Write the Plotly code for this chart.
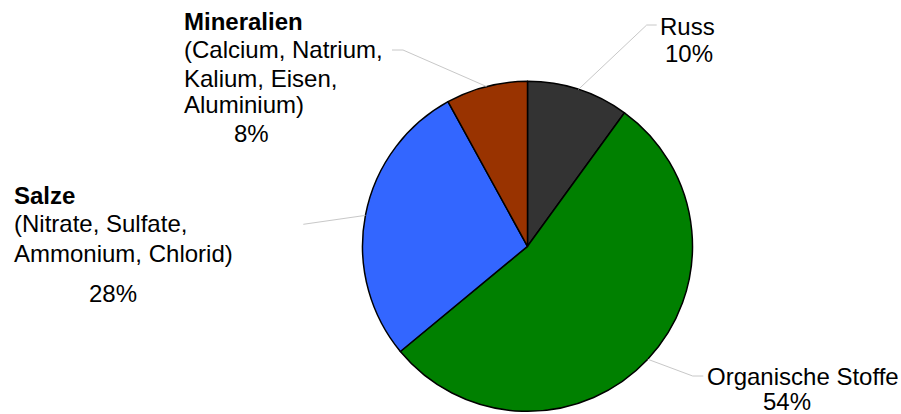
import math
import plotly.graph_objects as go

# ---- data ----
categories = ["Russ", "Organische Stoffe", "Salze", "Mineralien"]
values = [10, 54, 28, 8]
subtitles = ["", "", "(Nitrate, Sulfate,<br>Ammonium, Chlorid)", "(Calcium, Natrium,<br>Kalium, Eisen,<br>Aluminium)"]
colors = ["#333333", "#008000", "#3366FF", "#993300"]

W, H = 901, 414
CX, CY, R = 527.5, 246.3, 165.0
FONT = "Liberation Sans, Arial, sans-serif"
FS = 24

fig = go.Figure(go.Pie(
    labels=categories, values=values, sort=False, direction="clockwise", rotation=0,
    marker=dict(colors=colors, line=dict(color="#000000", width=1.5)),
    textinfo="none", hoverinfo="label+percent", showlegend=False,
    domain=dict(x=[(CX - R) / W, (CX + R) / W], y=[(H - CY - R) / H, (H - CY + R) / H]),
))

def px(x):
    return x / W

def py(y):
    return 1 - y / H

total = sum(values)
pct = [round(100 * v / total) for v in values]

# label layout (pixel positions of label blocks and leader elbows)
layout_spec = {
    "Russ": dict(lines=[(687, 26.7, "center", False)], pct=(689, 53.3), elbow=[(646.7, 25), (656.7, 25)]),
    "Organische Stoffe": dict(lines=[(706, 376, "left", False)], pct=(787, 401), elbow=[(692.7, 376), (703.3, 376)]),
    "Salze": dict(lines=[(13, 195.8, "left", True), (13, 224, "left", False), (13, 254, "left", False)],
                  pct=(113.3, 293), elbow=[(303.3, 224.3)]),
    "Mineralien": dict(lines=[(182.7, 21.3, "left", True), (182.7, 49.7, "left", False),
                              (182.7, 78.3, "left", False), (182.7, 104, "left", False)],
                       pct=(251.7, 133), elbow=[(403, 50), (392, 50)]),
}

annotations = []
shapes = []
cum = 0.0
for cat, val, sub, p in zip(categories, values, subtitles, pct):
    spec = layout_spec[cat]
    texts = [cat] + (sub.split("<br>") if sub else [])
    for (x, y, anchor, bold), t in zip(spec["lines"], texts):
        annotations.append(dict(x=px(x), y=py(y), xref="paper", yref="paper", text=f"<b>{t}</b>" if bold else t,
                                showarrow=False, xanchor=anchor, yanchor="middle", borderpad=0,
                                font=dict(family=FONT, size=FS, color="#000000")))
    annotations.append(dict(x=px(spec["pct"][0]), y=py(spec["pct"][1]), xref="paper", yref="paper",
                            text=f"{p}%", showarrow=False, xanchor="center", yanchor="middle", borderpad=0,
                            font=dict(family=FONT, size=FS, color="#000000")))
    # leader line from slice mid-angle
    mid = (cum + val / 2) / total * 2 * math.pi
    cum += val
    sx, sy = CX + R * math.sin(mid), CY - R * math.cos(mid)
    pts = [(sx, sy)] + spec["elbow"]
    path = "M " + " L ".join(f"{px(x)},{py(y)}" for x, y in pts)
    shapes.append(dict(type="path", path=path, xref="paper", yref="paper",
                       line=dict(color="#c8c8c8", width=1)))

fig.update_layout(
    width=W, height=H, margin=dict(l=0, r=0, t=0, b=0),
    paper_bgcolor="#ffffff", plot_bgcolor="#ffffff",
    annotations=annotations, shapes=shapes,
)

fig.write_html("out.html", config={"displayModeBar": False},
               post_script="document.body.style.margin='0';document.body.style.overflow='hidden';")
